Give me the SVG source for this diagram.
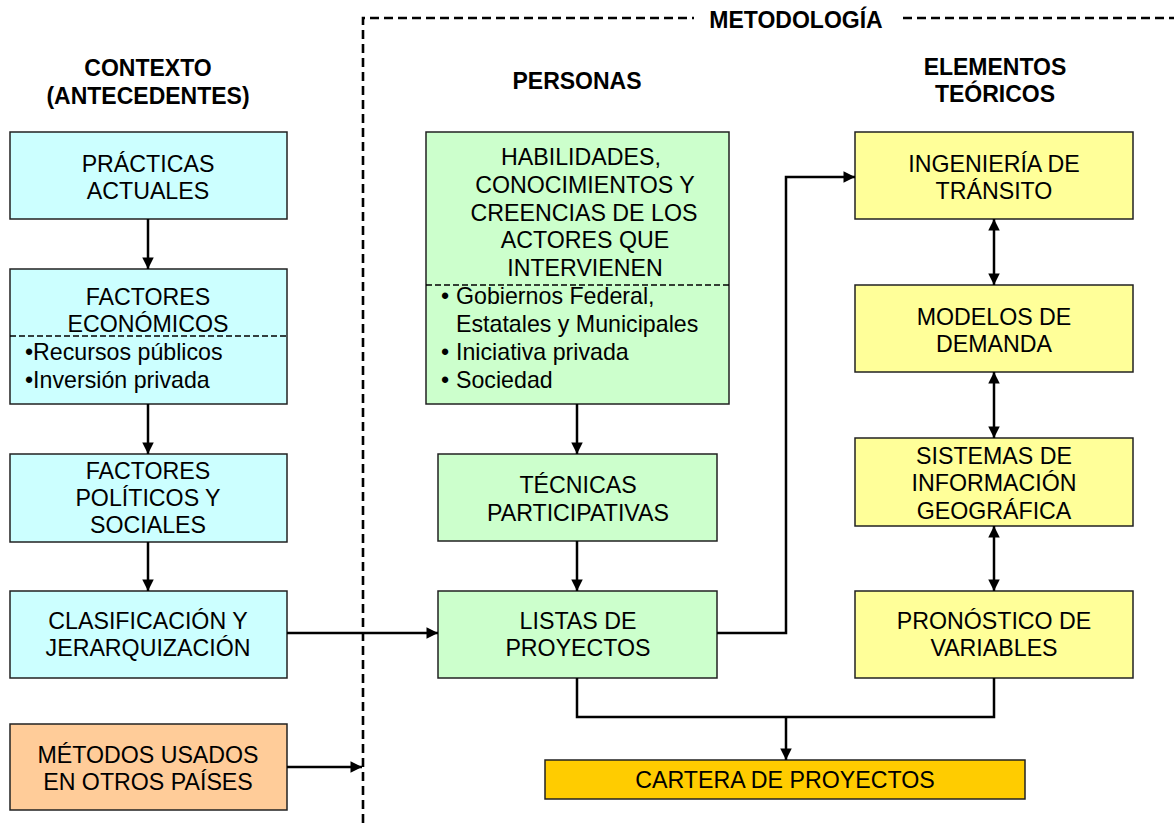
<svg xmlns="http://www.w3.org/2000/svg" width="1174" height="823" viewBox="0 0 1174 823">
<style>
  .box{stroke:#222;stroke-width:1.5}
  .blue{fill:#CCFFFF}
  .green{fill:#CCFFCC}
  .yellow{fill:#FFFF99}
  .orange{fill:#FFCC99}
  .gold{fill:#FFCC00}
  text{font-family:"Liberation Sans",Arial,sans-serif;fill:#000}
  .t{font-size:23.2px;text-anchor:middle}
  .l{font-size:23.2px}
  .h{font-size:23px;font-weight:bold;text-anchor:middle}
  .sep{stroke:#000;stroke-width:1.5;stroke-dasharray:6 3;fill:none}
  .frame{stroke:#000;stroke-width:2.6;stroke-dasharray:9 5;fill:none}
  .c{stroke:#000;stroke-width:2.5;fill:none}
</style>
<defs>
  <marker id="ah" viewBox="0 0 10 10" refX="10" refY="5" markerWidth="4.8" markerHeight="4.6" markerUnits="strokeWidth" orient="auto-start-reverse">
    <path d="M0,0 L10,5 L0,10 z" fill="#000"/>
  </marker>
</defs>

<g id="frame">
  <path class="frame" d="M363,823 V18 H694"/>
  <path class="frame" d="M903,18 H1174"/>
  <text class="h" x="796" y="28">METODOLOGÍA</text>
</g>

<g id="headers">
  <text class="h" x="148" y="76">CONTEXTO</text>
  <text class="h" x="148" y="104">(ANTECEDENTES)</text>
  <text class="h" x="577" y="89">PERSONAS</text>
  <text class="h" x="995" y="75">ELEMENTOS</text>
  <text class="h" x="995" y="102">TEÓRICOS</text>
</g>

<g id="practicas">
  <rect class="box blue" x="10" y="132" width="277" height="87"/>
  <text class="t" x="148" y="172">PRÁCTICAS</text>
  <text class="t" x="148" y="199">ACTUALES</text>
</g>
<g id="economicos">
  <rect class="box blue" x="10" y="269" width="277" height="135"/>
  <line class="sep" x1="10" y1="336" x2="287" y2="336"/>
  <text class="t" x="148" y="305">FACTORES</text>
  <text class="t" x="148" y="332">ECONÓMICOS</text>
  <text class="l" x="25" y="360">•Recursos públicos</text>
  <text class="l" x="25" y="388">•Inversión privada</text>
</g>
<g id="politicos">
  <rect class="box blue" x="10" y="454" width="277" height="88"/>
  <text class="t" x="148" y="479">FACTORES</text>
  <text class="t" x="148" y="506">POLÍTICOS Y</text>
  <text class="t" x="148" y="533">SOCIALES</text>
</g>
<g id="clasificacion">
  <rect class="box blue" x="10" y="591" width="277" height="87"/>
  <text class="t" x="148" y="629">CLASIFICACIÓN Y</text>
  <text class="t" x="148" y="656">JERARQUIZACIÓN</text>
</g>
<g id="metodos">
  <rect class="box orange" x="10" y="724" width="277" height="86"/>
  <text class="t" x="148" y="763">MÉTODOS USADOS</text>
  <text class="t" x="148" y="790">EN OTROS PAÍSES</text>
</g>

<g id="habilidades">
  <rect class="box green" x="426" y="132" width="303" height="272"/>
  <line class="sep" x1="426" y1="285" x2="729" y2="285"/>
  <text class="t" x="581" y="165">HABILIDADES,</text>
  <text class="t" x="585" y="193">CONOCIMIENTOS Y</text>
  <text class="t" x="584" y="221">CREENCIAS DE LOS</text>
  <text class="t" x="585" y="248">ACTORES QUE</text>
  <text class="t" x="585" y="276">INTERVIENEN</text>
  <text class="l" x="441" y="304">•</text>
  <text class="l" x="456" y="304">Gobiernos Federal,</text>
  <text class="l" x="456" y="332">Estatales y Municipales</text>
  <text class="l" x="441" y="360">•</text>
  <text class="l" x="456" y="360">Iniciativa privada</text>
  <text class="l" x="441" y="388">•</text>
  <text class="l" x="456" y="388">Sociedad</text>
</g>
<g id="tecnicas">
  <rect class="box green" x="438" y="454" width="279" height="87"/>
  <text class="t" x="578" y="493">TÉCNICAS</text>
  <text class="t" x="578" y="521">PARTICIPATIVAS</text>
</g>
<g id="listas">
  <rect class="box green" x="438" y="591" width="279" height="87"/>
  <text class="t" x="578" y="629">LISTAS DE</text>
  <text class="t" x="578" y="656">PROYECTOS</text>
</g>

<g id="ingenieria">
  <rect class="box yellow" x="855" y="132" width="278" height="87"/>
  <text class="t" x="994" y="172">INGENIERÍA DE</text>
  <text class="t" x="994" y="199">TRÁNSITO</text>
</g>
<g id="modelos">
  <rect class="box yellow" x="855" y="285" width="278" height="87"/>
  <text class="t" x="994" y="325">MODELOS DE</text>
  <text class="t" x="994" y="352">DEMANDA</text>
</g>
<g id="sistemas">
  <rect class="box yellow" x="855" y="438" width="278" height="88"/>
  <text class="t" x="994" y="464">SISTEMAS DE</text>
  <text class="t" x="994" y="491">INFORMACIÓN</text>
  <text class="t" x="994" y="519">GEOGRÁFICA</text>
</g>
<g id="pronostico">
  <rect class="box yellow" x="855" y="591" width="278" height="87"/>
  <text class="t" x="994" y="629">PRONÓSTICO DE</text>
  <text class="t" x="994" y="656">VARIABLES</text>
</g>

<g id="cartera">
  <rect class="box gold" x="545" y="760" width="480" height="39"/>
  <text class="t" x="785" y="788">CARTERA DE PROYECTOS</text>
</g>

<g id="connectors">
  <line class="c" x1="148" y1="219" x2="148" y2="269" marker-end="url(#ah)"/>
  <line class="c" x1="148" y1="404" x2="148" y2="454" marker-end="url(#ah)"/>
  <line class="c" x1="148" y1="542" x2="148" y2="591" marker-end="url(#ah)"/>
  <line class="c" x1="287" y1="633" x2="438" y2="633" marker-end="url(#ah)"/>
  <line class="c" x1="287" y1="767" x2="362" y2="767" marker-end="url(#ah)"/>
  <line class="c" x1="577" y1="404" x2="577" y2="454" marker-end="url(#ah)"/>
  <line class="c" x1="577" y1="541" x2="577" y2="591" marker-end="url(#ah)"/>
  <path class="c" d="M717,633 H786 V177 H855" marker-end="url(#ah)"/>
  <line class="c" x1="994" y1="219" x2="994" y2="285" marker-start="url(#ah)" marker-end="url(#ah)"/>
  <line class="c" x1="994" y1="372" x2="994" y2="438" marker-start="url(#ah)" marker-end="url(#ah)"/>
  <line class="c" x1="994" y1="526" x2="994" y2="591" marker-start="url(#ah)" marker-end="url(#ah)"/>
  <path class="c" d="M577,678 V717 H994 V678"/>
  <line class="c" x1="786" y1="717" x2="786" y2="760" marker-end="url(#ah)"/>
</g>
</svg>
